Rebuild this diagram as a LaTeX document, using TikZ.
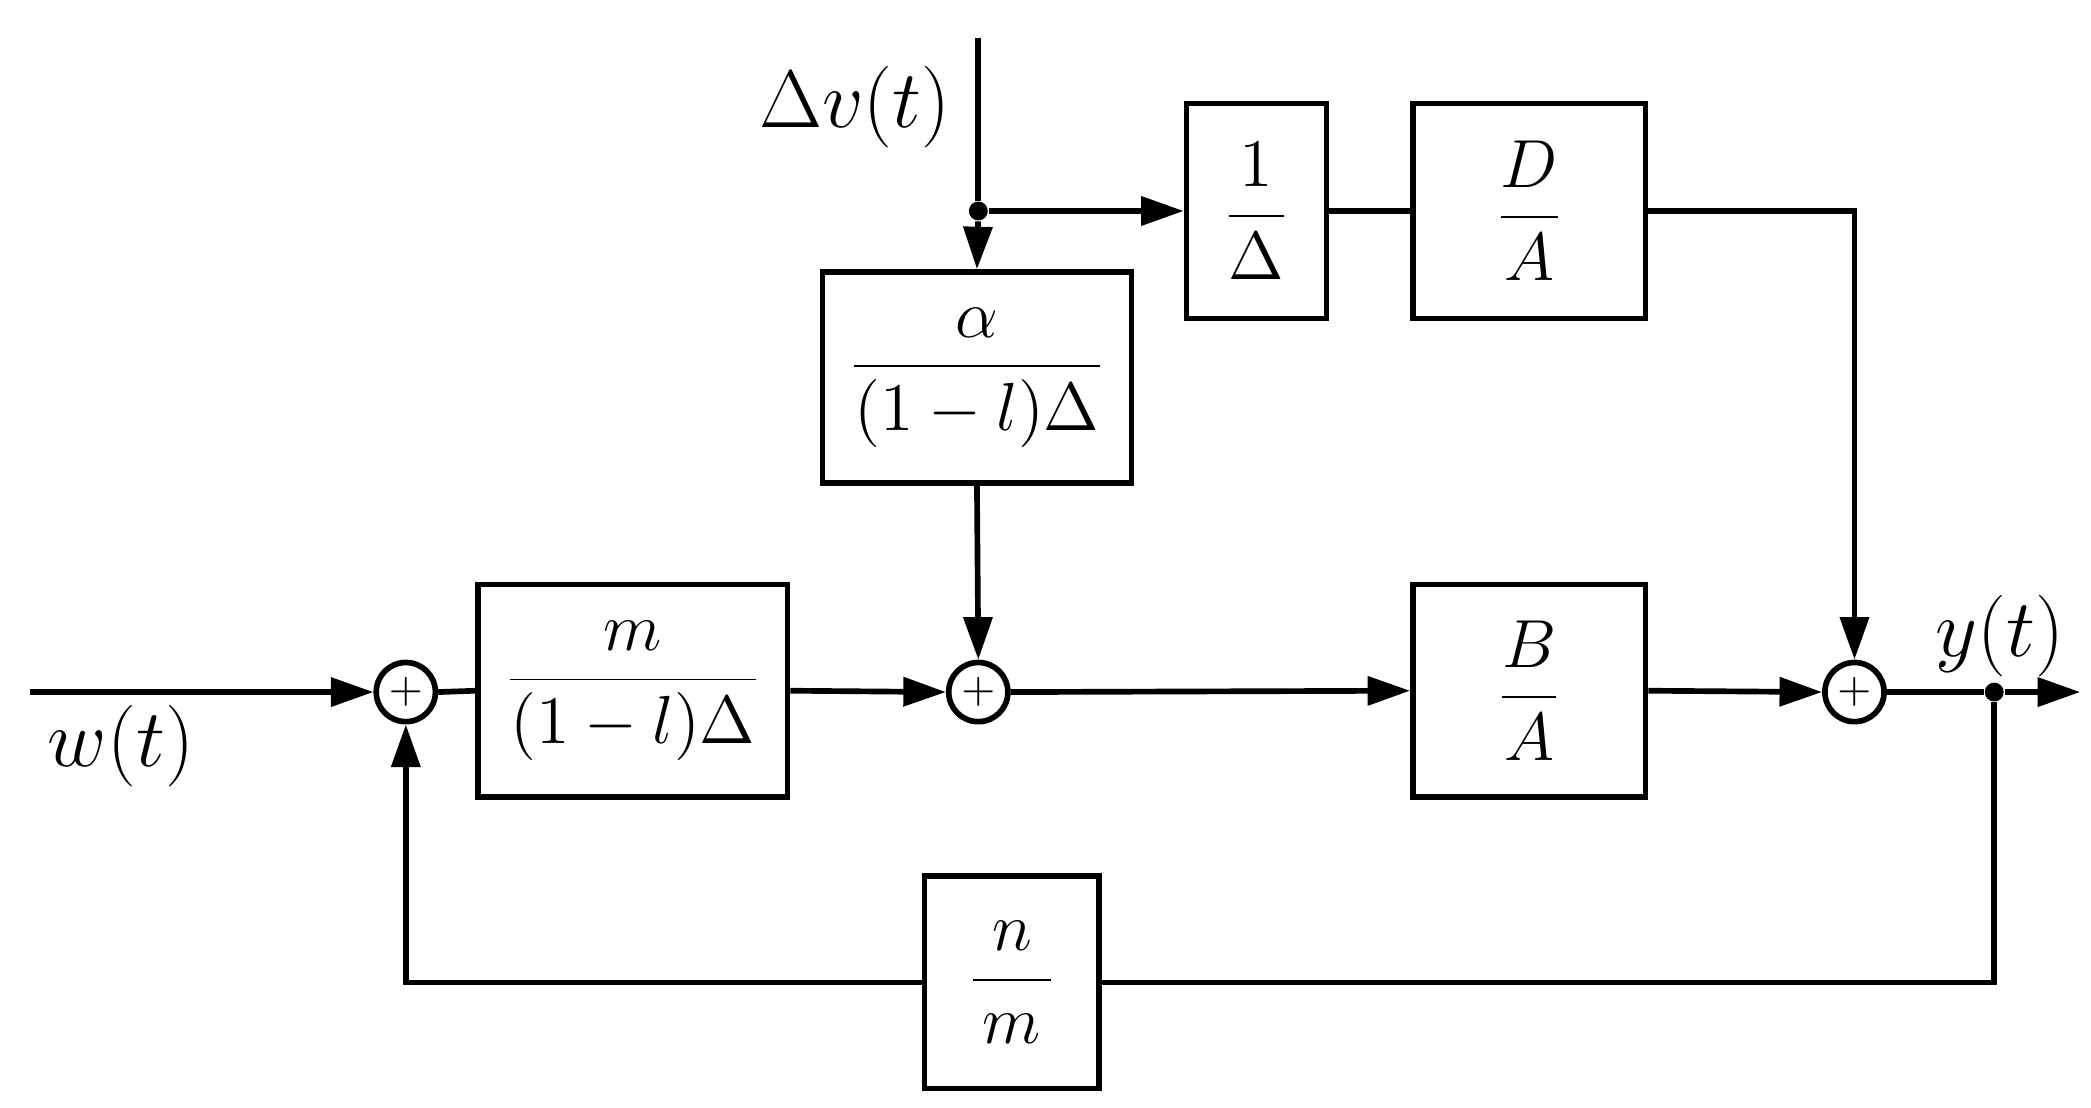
\documentclass[tikz,border=0pt]{standalone}
\usepackage{fontspec}
\setmainfont{Liberation Serif}
\usetikzlibrary{arrows.meta}
\begin{document}
\begin{tikzpicture}[x=0.01cm,y=-0.01cm,
  blk/.style={draw,line width=1.2pt,inner sep=0pt},
  sum/.style={draw,circle,line width=1.2pt,minimum size=0.44cm,inner sep=0pt,font=\fontsize{9}{10}\selectfont},
  ln/.style={line width=1.2pt},
  ar/.style={ln,-{Triangle[length=9pt,width=6pt]}},
  dot/.style={circle,fill,inner sep=0pt,minimum size=4pt},
  fr/.style={font=\fontsize{15}{18}\selectfont},
  lab/.style={font=\fontsize{18}{20}\selectfont}]
\useasboundingbox (0,0) rectangle (1556,824);
\node[sum] (s1) at (302,515) {$+$};
\node[sum] (s2) at (728,515) {$+$};
\node[sum] (s3) at (1380,515) {$+$};
\node[blk,fr,minimum width=2.3cm,minimum height=1.58cm] (m) at (471,514) {$\displaystyle\frac{\;m\;}{(1-l)\Delta}$};
\node[blk,fr,minimum width=2.3cm,minimum height=1.57cm] (a) at (727,281) {$\displaystyle\frac{\alpha}{(1-l)\Delta}$};
\node[blk,fr,minimum width=1.04cm,minimum height=1.6cm] (d) at (935,157) {$\displaystyle\frac{1}{\Delta}$};
\node[blk,fr,minimum width=1.73cm,minimum height=1.6cm] (da) at (1138,157) {$\displaystyle\frac{D}{A}$};
\node[blk,fr,minimum width=1.73cm,minimum height=1.58cm] (ba) at (1138,514) {$\displaystyle\frac{B}{A}$};
\node[blk,fr,minimum width=1.3cm,minimum height=1.58cm] (nm) at (753,731) {$\displaystyle\frac{\;n\;}{m}$};
\coordinate (top) at (728,28);
\node[dot] (j1) at (728,157) {};
\node[dot] (j2) at (1484,515) {};
\coordinate (win) at (22,515);
\coordinate (yout) at (1548,515);
\draw[ln] (top) -- (j1);
\draw[ar] (j1) -- (a.north);
\draw[ar] (j1) -- (d.west);
\draw[ln] (d.east) -- (da.west);
\draw[ar] (da.east) -| (s3.north);
\draw[ar] (a.south) -- (s2.north);
\draw[ar] (win) -- (s1.west);
\draw[ln] (s1.east) -- (m.west);
\draw[ar] (m.east) -- (s2.west);
\draw[ar] (s2.east) -- (ba.west);
\draw[ar] (ba.east) -- (s3.west);
\draw[ln] (s3.east) -- (j2);
\draw[ar] (j2) -- (yout);
\draw[ln] (j2) |- (nm.east);
\draw[ar] (nm.west) -| (s1.south);
\node[lab] at (636,80) {$\Delta v(t)$};
\node[lab] at (90,555) {$w(t)$};
\node[lab] at (1488,473) {$y(t)$};
\end{tikzpicture}
\end{document}
